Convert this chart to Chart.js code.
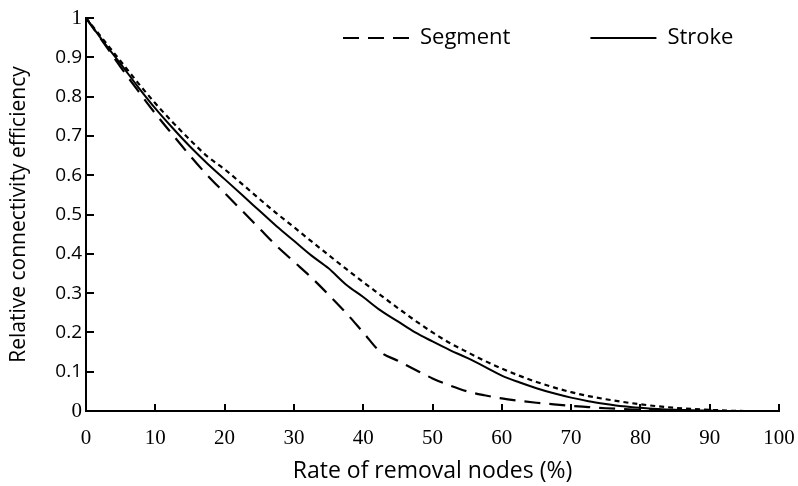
<!DOCTYPE html>
<html>
<head>
<meta charset="utf-8">
<script src="https://cdn.jsdelivr.net/npm/chart.js@4.4.1/dist/chart.umd.min.js"></script>
<style>
  html, body { margin: 0; padding: 0; background: #fff; }
</style>
</head>
<body>
<canvas id="canvasRemoval" width="798" height="486"></canvas>
<script>
// removal rate (%) on the x axis
var rates = [0, 2.5, 5, 7.5, 10, 12.5, 15, 17.5, 20, 22.5, 25, 27.5, 30, 32.5, 35, 37.5, 40,
    42.5, 45, 47.5, 50, 52.5, 55, 57.5, 60, 62.5, 65, 67.5, 70, 72.5, 75, 77.5, 80,
    82.5, 85, 87.5, 90, 92.5, 95, 97.5, 100];

// long dashes
var segmentValues = [1, 0.938, 0.875, 0.815, 0.757, 0.703, 0.65, 0.6, 0.555, 0.51, 0.465, 0.42, 0.38,
    0.34, 0.296, 0.25, 0.2, 0.15, 0.128, 0.105, 0.083, 0.065, 0.05, 0.04, 0.032, 0.026, 0.021,
    0.017, 0.013, 0.01, 0.007, 0.005, 0.003, 0.002, 0.001, 0, 0, 0, 0, 0, 0];

// solid line
var strokeValues = [1, 0.94, 0.883, 0.825, 0.77, 0.72, 0.673, 0.63, 0.59, 0.55, 0.51, 0.47, 0.433,
    0.396, 0.363, 0.322, 0.29, 0.256, 0.228, 0.2, 0.177, 0.155, 0.135, 0.113, 0.09, 0.073, 0.058,
    0.045, 0.034, 0.025, 0.018, 0.012, 0.008, 0.005, 0.003, 0.002, 0.001, 0, 0, 0, 0];

// short dashes (its legend entry is not visible in the picture)
var thirdValues = [1, 0.945, 0.89, 0.835, 0.783, 0.735, 0.69, 0.648, 0.615, 0.578, 0.54, 0.503, 0.468,
    0.432, 0.397, 0.362, 0.328, 0.295, 0.262, 0.23, 0.2, 0.173, 0.15, 0.128, 0.108, 0.09, 0.074,
    0.06, 0.048, 0.038, 0.03, 0.023, 0.017, 0.012, 0.008, 0.005, 0.003, 0.001, 0, 0, 0];

var seriesNames = ["Segment", "Stroke", ""];

var xTitle = "Rate of removal nodes (%)";
var yTitle = "Relative connectivity efficiency";

function toPoints(values) {
    var pts = [];
    for (var i = 0; i < rates.length; i++) {
        pts.push({ x: rates[i], y: values[i] });
    }
    return pts;
}

// legend sits inside the plot, so it takes no room in the layout
var legendInside = {
    id: "legendInside",
    beforeLayout: function (chart) {
        var lg = chart.legend;
        if (lg && !lg._inside) {
            var fit = lg.fit;
            lg.fit = function () {
                fit.call(this);
                this._realHeight = this.height;
                this.height = 0;
            };
            lg._inside = true;
        }
    },
    afterLayout: function (chart) {
        var lg = chart.legend;
        var pad = lg.options.labels.padding;
        var w = lg.right - lg.left;
        lg.left = 343 - pad;
        lg.right = lg.left + w;
        lg.top = 38 - pad - 11;
        lg.bottom = lg.top + lg._realHeight;
    }
};

var tickLen = 7;

// grid lines cut down by a dash pattern so only a short inner tick shows
function plotHeight(ctx) {
    var a = ctx.chart.chartArea;
    return a ? a.bottom - a.top : 393;
}

var serifTick = { family: "'Liberation Serif', serif", size: 21 };
var sansTick = { family: "'Open Sans', sans-serif", size: 19 };

var config = {
    type: "line",
    data: {
        datasets: [{
            label: seriesNames[0],
            data: toPoints(segmentValues),
            borderColor: "#000",
            backgroundColor: "#fff",
            borderWidth: 2.2,
            borderDash: [16, 9],
            pointRadius: 0,
            cubicInterpolationMode: "monotone"
        }, {
            label: seriesNames[1],
            data: toPoints(strokeValues),
            borderColor: "#000",
            backgroundColor: "#fff",
            borderWidth: 2,
            pointRadius: 0,
            cubicInterpolationMode: "monotone"
        }, {
            label: seriesNames[2],
            data: toPoints(thirdValues),
            borderColor: "#000",
            backgroundColor: "#fff",
            borderWidth: 2.2,
            borderDash: [5, 4],
            pointRadius: 0,
            cubicInterpolationMode: "monotone"
        }]
    },
    options: {
        responsive: false,
        animation: false,
        devicePixelRatio: 1,
        layout: { padding: { top: 18, right: 19, bottom: 0, left: 0 } },
        plugins: {
            tooltip: { enabled: false },
            legend: {
                display: true,
                position: "top",
                align: "start",
                labels: {
                    color: "#000",
                    font: { family: "'Open Sans', sans-serif", size: 22 },
                    usePointStyle: true,
                    pointStyle: "line",
                    pointStyleWidth: 66,
                    boxHeight: 22,
                    padding: 80,
                    filter: function (item) { return item.text !== ""; },
                    generateLabels: function (chart) {
                        var items = Chart.defaults.plugins.legend.labels.generateLabels(chart);
                        items.forEach(function (item) {
                            var ds = chart.data.datasets[item.datasetIndex];
                            item.lineDash = ds.borderDash || [];
                            item.lineWidth = 2.2;
                            item.strokeStyle = "#000";
                            item.pointStyle = "line";
                        });
                        return items;
                    }
                }
            }
        },
        scales: {
            x: {
                type: "linear",
                min: 0,
                max: 100,
                border: {
                    display: true, color: "#000", width: 2,
                    dash: function (ctx) { return [tickLen, plotHeight(ctx)]; },
                    dashOffset: 2 * tickLen
                },
                grid: { display: true, drawOnChartArea: true, drawTicks: false, color: "#000", lineWidth: 2 },
                ticks: { stepSize: 10, color: "#000", font: serifTick, padding: 15, maxRotation: 0 },
                title: {
                    display: true,
                    text: xTitle,
                    color: "#000",
                    font: { family: "'Open Sans', sans-serif", size: 23 },
                    padding: { top: 0, bottom: 1 }
                },
                afterFit: function (scale) {
                    scale.height = 75;
                    scale.paddingLeft = 0;
                    scale.paddingRight = 0;
                }
            },
            y: {
                min: 0,
                max: 1,
                border: {
                    display: true, color: "#000", width: 2,
                    dash: [tickLen, 2000],
                    dashOffset: 0
                },
                grid: { display: true, drawOnChartArea: true, drawTicks: false, color: "#000", lineWidth: 2 },
                ticks: {
                    stepSize: 0.1,
                    color: "#000",
                    padding: 4,
                    callback: function (v) {
                        return (v === 0 || v === 1) ? String(v) : v.toFixed(1);
                    },
                    font: function (ctx) {
                        var v = ctx.tick ? ctx.tick.value : 0.5;
                        return (v === 0 || v === 1) ? serifTick : sansTick;
                    }
                },
                title: {
                    display: true,
                    text: yTitle,
                    color: "#000",
                    font: { family: "'Open Sans', sans-serif", size: 21 },
                    padding: { top: 6, bottom: 0 }
                },
                afterFit: function (scale) { scale.width = 86; }
            }
        }
    },
    plugins: [legendInside]
};

var chart = new Chart(document.getElementById("canvasRemoval").getContext("2d"), config);
</script>
</body>
</html>
